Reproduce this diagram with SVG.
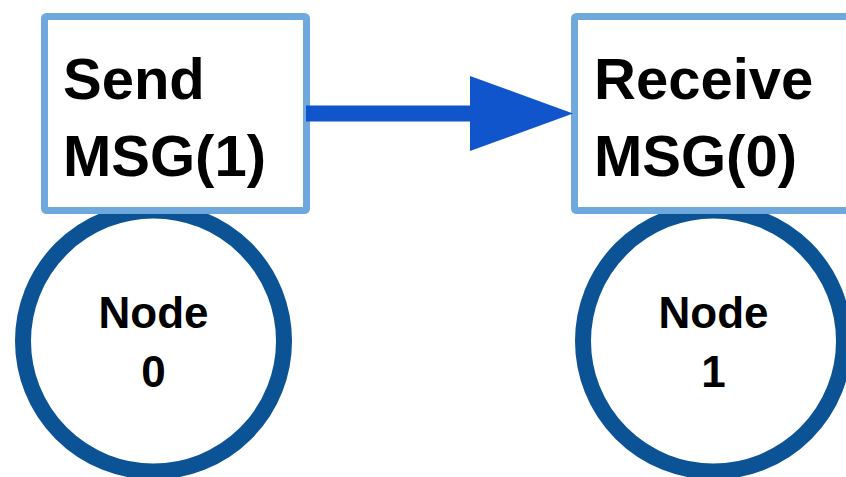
<svg xmlns="http://www.w3.org/2000/svg" width="846" height="477" viewBox="0 0 846 477">
<style>
.box{fill:#ffffff;stroke:#6fa8dc;stroke-width:7}
.circ{fill:#ffffff;stroke:#0b5394;stroke-width:16}
.big{font-family:"Liberation Sans",Arial,sans-serif;font-weight:bold;font-size:58px;fill:#000}
.small{font-family:"Liberation Sans",Arial,sans-serif;font-weight:bold;font-size:44px;fill:#000;text-anchor:middle}
</style>
<rect width="846" height="477" fill="#ffffff"/>
<g id="node0">
<circle class="circ" cx="153.5" cy="341" r="130.5"/>
<text class="small" x="153.5" y="328">Node</text>
<text class="small" x="153.5" y="387">0</text>
</g>
<g id="node1">
<circle class="circ" cx="713.5" cy="341" r="130.5"/>
<text class="small" x="713.5" y="328">Node</text>
<text class="small" x="713.5" y="387">1</text>
</g>
<g id="send">
<rect class="box" x="44.5" y="16.5" width="262" height="194" rx="2"/>
<text class="big" x="63" y="99">Send</text>
<text class="big" x="63" y="176">MSG(1)</text>
</g>
<g id="receive">
<rect class="box" x="574.5" y="16.5" width="290" height="194" rx="2"/>
<text class="big" x="594" y="99">Receive</text>
<text class="big" x="594" y="176">MSG(0)</text>
</g>
<g id="connectors">
<line x1="306" y1="113.5" x2="472" y2="113.5" stroke="#1155cc" stroke-width="16"/>
<polygon points="470,76 573,113.5 470,151" fill="#1155cc"/>
</g>
</svg>
